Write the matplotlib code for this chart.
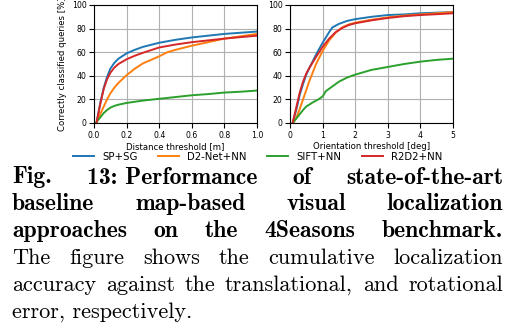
import matplotlib
matplotlib.use("Agg")
import matplotlib.pyplot as plt

# cumulative localization accuracy vs. translation threshold [m]
dist_sp_sg = [0.015, 0.04, 0.06, 0.08, 0.1, 0.125, 0.15, 0.2, 0.25, 0.3, 0.4, 0.5, 0.6, 0.7, 0.8, 0.9, 1.0]
acc_dist_sp_sg = [0, 18, 30, 39, 46, 51, 54.5, 59, 62, 64.5, 68, 70.5, 72.5, 74, 75.5, 76.5, 77.5]
dist_d2net = [0.015, 0.04, 0.06, 0.08, 0.1, 0.125, 0.15, 0.2, 0.25, 0.3, 0.4, 0.45, 0.5, 0.6, 0.7, 0.8, 0.9, 1.0]
acc_dist_d2net = [0, 8, 14, 20, 25, 30, 34, 40.5, 46, 50.5, 56.5, 60, 62, 65.5, 68.5, 71.5, 73.5, 75.5]
dist_sift = [0.01, 0.04, 0.06, 0.08, 0.1, 0.125, 0.15, 0.2, 0.3, 0.4, 0.5, 0.6, 0.7, 0.8, 0.9, 1.0]
acc_dist_sift = [0, 5, 8.5, 11, 13, 14.5, 15.5, 17, 19, 20.5, 22, 23.5, 24.5, 25.8, 26.5, 27.5]
dist_r2d2 = [0.015, 0.04, 0.06, 0.08, 0.1, 0.125, 0.15, 0.2, 0.25, 0.3, 0.4, 0.5, 0.6, 0.7, 0.8, 0.9, 1.0]
acc_dist_r2d2 = [0, 17, 29, 37, 42.5, 47, 50, 54, 57, 59.5, 64, 66.5, 68.5, 70, 71.5, 72.8, 74]

# cumulative localization accuracy vs. orientation threshold [deg]
ori_sp_sg = [0.08, 0.2, 0.3, 0.4, 0.5, 0.6, 0.8, 1.0, 1.2, 1.3, 1.5, 1.75, 2.0, 2.5, 3.0, 3.5, 4.0, 4.5, 5.0]
acc_ori_sp_sg = [0, 12, 24, 33, 41, 47, 58, 68, 77, 81, 84, 86.5, 88, 90, 91.5, 92, 93, 93.5, 94]
ori_d2net = [0.1, 0.2, 0.3, 0.4, 0.5, 0.6, 0.8, 1.0, 1.2, 1.4, 1.6, 1.8, 2.0, 2.5, 3.0, 3.5, 4.0, 4.5, 5.0]
acc_ori_d2net = [0, 5, 12, 20, 28, 36, 50, 61, 70, 76.5, 81, 83.5, 85, 87.5, 89.5, 91, 92, 93, 94]
ori_sift = [0.08, 0.2, 0.3, 0.4, 0.5, 0.7, 0.9, 1.0, 1.1, 1.3, 1.5, 1.75, 2.0, 2.5, 3.0, 3.5, 4.0, 4.5, 5.0]
acc_ori_sift = [0, 4, 7.5, 11, 14, 17.5, 20.5, 22.5, 27, 31, 35, 38.5, 41, 45, 47.5, 50, 52, 53.5, 54.5]
ori_r2d2 = [0.08, 0.2, 0.3, 0.4, 0.5, 0.6, 0.8, 1.0, 1.2, 1.4, 1.6, 1.8, 2.0, 2.5, 3.0, 3.5, 4.0, 4.5, 5.0]
acc_ori_r2d2 = [0, 14, 26, 35, 42, 47, 56, 64.5, 71.5, 77, 80.5, 83, 84.5, 87, 89, 90.5, 91.5, 92.2, 93]

methods = ["SP+SG", "D2-Net+NN", "SIFT+NN", "R2D2+NN"]
colors = ["#1f77b4", "#ff7f0e", "#2ca02c", "#d62728"]

# caption lines as word chunks; chunks are spread out to fill the line
caption_lines = [
    (["Fig.", "13: Performance", "of", "state-of-the-art"], True),
    (["baseline", "map-based", "visual", "localization"], True),
    (["approaches", "on", "the", "4Seasons", "benchmark."], True),
    (["The", "figure", "shows", "the", "cumulative", "localization"], False),
    (["accuracy", "against", "the", "translational,", "and", "rotational"], False),
    (["error, respectively."], False),
]

W, H = 510, 333
fig = plt.figure(figsize=(W / 100, H / 100), dpi=100)

ax1 = fig.add_axes([94 / W, 1 - 123 / H, 163 / W, 118 / H])
ax2 = fig.add_axes([290 / W, 1 - 123 / H, 163 / W, 118 / H])

dist_data = [(dist_sp_sg, acc_dist_sp_sg), (dist_d2net, acc_dist_d2net),
             (dist_sift, acc_dist_sift), (dist_r2d2, acc_dist_r2d2)]
ori_data = [(ori_sp_sg, acc_ori_sp_sg), (ori_d2net, acc_ori_d2net),
            (ori_sift, acc_ori_sift), (ori_r2d2, acc_ori_r2d2)]

for (x, y), name, c in zip(dist_data, methods, colors):
    ax1.plot(x, y, color=c, lw=1.4, label=name)
for (x, y), name, c in zip(ori_data, methods, colors):
    ax2.plot(x, y, color=c, lw=1.4)

ax1.set_xlim(0, 1.0)
ax1.set_xticks([0.0, 0.2, 0.4, 0.6, 0.8, 1.0])
ax2.set_xlim(0, 5)
ax2.set_xticks([0, 1, 2, 3, 4, 5])
for ax in (ax1, ax2):
    ax.set_ylim(0, 100)
    ax.set_yticks([0, 20, 40, 60, 80, 100])
    ax.grid(True, color="#b0b0b0", lw=0.8)
    ax.tick_params(labelsize=5.6, length=3.5, width=0.8, pad=2)
    for s in ax.spines.values():
        s.set_linewidth(0.8)

ax1.set_xlabel("Distance threshold [m]", fontsize=6.1, labelpad=2)
ax2.set_xlabel("Orientation threshold [deg]", fontsize=6.1, labelpad=2)
ax1.set_ylabel("Correctly classified queries [%]", fontsize=6.1, labelpad=3)

fig.legend(loc="center", ncol=4, bbox_to_anchor=(0.505, 1 - 156.7 / H),
           frameon=False, fontsize=7.3, handlelength=2.1, columnspacing=2.0)

# justified caption below the plots
left, right = 12, 503
renderer = fig.canvas.get_renderer()
for i, (words, bold) in enumerate(caption_lines):
    font = "cmb10" if bold else "cmr10"
    size = 17 if bold else 16
    y = 1 - (183.5 + 26.8 * i) / H
    texts = [fig.text(left / W, y, w, fontfamily=font, fontsize=size, va="baseline") for w in words]
    if len(words) < 2:
        continue
    widths = [t.get_window_extent(renderer).width for t in texts]
    gap = (right - left - sum(widths)) / (len(words) - 1)
    x = left
    for t, w in zip(texts, widths):
        t.set_x(x / W)
        x += w + gap

fig.savefig("out.png", dpi=100)
